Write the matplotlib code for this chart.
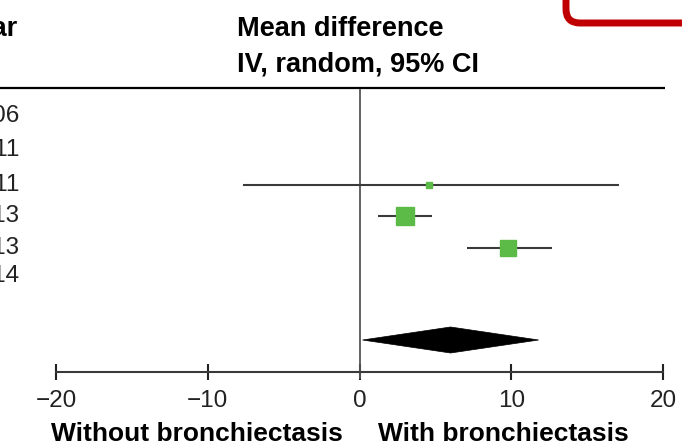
import numpy as np
import matplotlib.pyplot as plt
from matplotlib.patches import FancyBboxPatch, Polygon

plt.rcParams['font.family'] = ['Liberation Sans', 'DejaVu Sans']

# study years (left column) and mean differences with 95% CI
years = ['2006', '2011', '2011', '2013', '2013', '2014']
md = [None, None, 4.6, 3.0, 9.8, None]
ci_low = [None, None, -7.7, 1.2, 7.1, None]
ci_high = [None, None, 17.1, 4.8, 12.7, None]
weights = [None, None, 4.5, 40.0, 28.0, None]

# pooled random-effects estimate
pooled_md = 6.0
pooled_low = 0.2
pooled_high = 11.8

ticks = [-20, -10, 0, 10, 20]

# layout (y in pixels from the top)
W, H = 682, 445
row_y = [116, 150, 185, 216, 248, 276]
pooled_y = 340
axis_y = 372
px_per_unit = 15.175
x0_px = 359.5

fig = plt.figure(figsize=(W / 100, H / 100), dpi=100)
ax = fig.add_axes([0, 0, 1, 1])
ax.set_xlim(-x0_px / px_per_unit, (W - x0_px) / px_per_unit)
ax.set_ylim(H, 0)
for s in ['top', 'left', 'right']:
    ax.spines[s].set_visible(False)
ax.set_yticks([])

line_col = '#3a3a3a'
green = '#5cba47'

# header
ax.text(-22.55, 29, 'Year', fontsize=19.5, fontweight='bold', ha='right', va='center')
ax.text(-8.05, 29, 'Mean difference', fontsize=19.5, fontweight='bold', ha='left', va='center')
ax.text(-8.05, 65, 'IV, random, 95% CI', fontsize=19.5, fontweight='bold', ha='left', va='center')
ax.plot([-24, 20.1], [88, 88], color='black', lw=1.6, solid_capstyle='butt')

# year labels
for yr, y in zip(years, row_y):
    ax.text(-22.35, y, yr, fontsize=17.5, ha='right', va='center', color='#222222')

# line of no effect
ax.plot([0, 0], [90, axis_y + 6], color='#555555', lw=1.3)

# individual studies
for m, lo, hi, w, y in zip(md, ci_low, ci_high, weights, row_y):
    if m is None:
        continue
    ax.plot([lo, hi], [y, y], color=line_col, lw=1.5, solid_capstyle='butt')
    size_pt = 2.85 * np.sqrt(w) / 1.389
    ax.plot(m, y, marker='s', ms=size_pt, color=green, mec=green)

# pooled diamond
diamond = Polygon([[pooled_low, pooled_y], [pooled_md, pooled_y - 13],
                   [pooled_high, pooled_y], [pooled_md, pooled_y + 13]],
                  closed=True, facecolor='black', edgecolor='black', lw=0.5)
ax.add_patch(diamond)

# x axis
ax.spines['bottom'].set_position(('data', axis_y))
ax.spines['bottom'].set_bounds(-20, 20)
ax.spines['bottom'].set_linewidth(1.5)
ax.spines['bottom'].set_color(line_col)
ax.set_xticks(ticks)
ax.tick_params(axis='x', direction='inout', length=12, width=1.5, color='#222222',
               labelsize=17.5, pad=7, labelcolor='#222222')

ax.text(-1.1, 434, 'Without bronchiectasis', fontsize=19, fontweight='bold',
        ha='right', va='center')
ax.text(1.2, 434, 'With bronchiectasis', fontsize=19, fontweight='bold',
        ha='left', va='center')

# red frame in the corner
over = fig.add_axes([0, 0, 1, 1])
over.set_xlim(0, W)
over.set_ylim(H, 0)
over.axis('off')
over.patch.set_visible(False)
frame = FancyBboxPatch((566, -60), 200, 83, boxstyle='round,pad=0,rounding_size=14',
                       facecolor='none', edgecolor='#c00000', lw=5)
over.add_patch(frame)

fig.savefig('out.png', dpi=100)
